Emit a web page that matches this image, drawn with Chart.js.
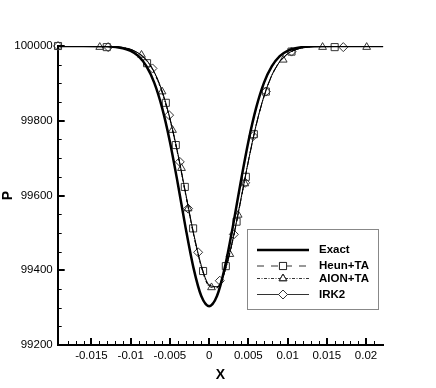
<html>
<head>
<meta charset="utf-8">
<script src="https://cdn.jsdelivr.net/npm/chart.js@4.4.0/dist/chart.umd.min.js"></script>
</head>
<body style="margin:0;background:#fff">
<canvas id="chart" width="436" height="388"></canvas>
<script>
// pressure profile P(x)
var xGrid = [-0.0193, -0.016, -0.013, -0.011, -0.010, -0.009, -0.008, -0.007, -0.006, -0.005, -0.004, -0.003, -0.002, -0.001, 0,
             0.001, 0.002, 0.003, 0.004, 0.005, 0.006, 0.007, 0.008, 0.009, 0.010, 0.011, 0.013, 0.016, 0.0222];
var exactP = [100000, 100000, 99999, 99994, 99987, 99973, 99946, 99902, 99835, 99744, 99633, 99514, 99407, 99331, 99304,
              99331, 99407, 99514, 99633, 99744, 99835, 99902, 99946, 99973, 99987, 99994, 99999, 100000, 100000];
var heunP = [100000, 100000, 99999, 99996, 99991, 99981, 99962, 99930, 99878, 99805, 99712, 99605, 99499, 99411, 99359,
             99354, 99397, 99479, 99583, 99691, 99788, 99865, 99921, 99957, 99978, 99990, 99998, 100000, 100000];
var aionP = [100000, 100000, 99999, 99996, 99990, 99980, 99961, 99928, 99876, 99803, 99710, 99603, 99497, 99409, 99357,
             99353, 99396, 99478, 99583, 99692, 99789, 99866, 99922, 99958, 99979, 99990, 99998, 100000, 100000];
var irkP = [100000, 100000, 99999, 99996, 99991, 99981, 99963, 99931, 99880, 99807, 99714, 99607, 99501, 99413, 99361,
            99356, 99399, 99481, 99585, 99692, 99789, 99866, 99922, 99958, 99979, 99990, 99998, 100000, 100000];

// symbols as they sit on the curves
var heunMarkX = [-0.01926, -0.01305, -0.00791, -0.00552, -0.00425, -0.0031, -0.00204, -0.00077, 0.00213, 0.0035, 0.00468, 0.0057, 0.00723, 0.0105, 0.016];
var heunMarkP = [100000, 99997, 99954, 99848, 99735, 99623, 99512, 99398, 99411, 99530, 99650, 99764, 99878, 99985, 99997];
var aionMarkX = [-0.01394, -0.00862, -0.006, -0.00467, -0.00352, -0.00268, 0.0003, 0.00264, 0.0037, 0.00455, 0.00944, 0.01446, 0.02008];
var aionMarkP = [99997, 99976, 99878, 99775, 99673, 99565, 99354, 99443, 99548, 99632, 99963, 99997, 99997];
var irkMarkX = [-0.01926, -0.01287, -0.00722, -0.0051, -0.00374, -0.00268, -0.0014, 0.00136, 0.00315, 0.0046, 0.00561, 0.00723, 0.0105, 0.0171];
var irkMarkP = [100000, 99997, 99940, 99815, 99690, 99565, 99448, 99372, 99496, 99634, 99759, 99878, 99985, 99997];

var names = ['Exact', 'Heun+TA', 'AION+TA', 'IRK2'];

function pts(xs, ys) {
  return xs.map(function(v, i) { return {x: v, y: ys[i]}; });
}
function near(v, step) {
  var k = v / step;
  return Math.abs(k - Math.round(k)) < 1e-6;
}

var curve = function(label, data, width, dash) {
  return {label: label, data: data, borderColor: '#000', borderWidth: width, borderDash: dash,
          pointRadius: 0, fill: false, cubicInterpolationMode: 'monotone'};
};
var marks = function(label, data, style, r) {
  return {label: label, data: data, showLine: false, pointStyle: style, pointRadius: r,
          pointBackgroundColor: 'rgba(0,0,0,0)', pointBorderColor: '#333', pointBorderWidth: 1, clip: false};
};

var lineStyles = [
  {width: 2.5, dash: [], mark: null},
  {width: 1, dash: [7, 7], mark: 'rect', r: 5},
  {width: 1, dash: [3, 1.5, 1, 1.5], mark: 'triangle', r: 4.5},
  {width: 1, dash: [], mark: 'rectRot', r: 4.5}
];

var tickMarks = {
  id: 'tickMarks',
  afterDatasetsDraw: function(chart) {
    var ctx = chart.ctx, area = chart.chartArea, sx = chart.scales.x, sy = chart.scales.y;
    ctx.save();
    ctx.strokeStyle = '#000';
    sx.ticks.forEach(function(t) {
      if (!near(t.value, 0.001)) return;
      var major = near(t.value, 0.005);
      var px = Math.round(sx.getPixelForValue(t.value)) + (major ? 0 : 0.5);
      ctx.lineWidth = major ? 2 : 1;
      ctx.beginPath();
      ctx.moveTo(px, area.bottom);
      ctx.lineTo(px, area.bottom - (major ? 7 : 4));
      ctx.stroke();
    });
    sy.ticks.forEach(function(t) {
      if (t.value % 50 !== 0) return;
      var major = t.value % 200 === 0;
      var py = Math.round(sy.getPixelForValue(t.value)) + (major ? 0 : 0.5);
      ctx.lineWidth = major ? 2 : 1;
      ctx.beginPath();
      ctx.moveTo(area.left, py);
      ctx.lineTo(area.left + (major ? 7 : 4), py);
      ctx.stroke();
    });
    ctx.restore();
  }
};

var boxLegend = {
  id: 'boxLegend',
  afterDraw: function(chart, args, opts) {
    var ctx = chart.ctx;
    ctx.save();
    ctx.strokeStyle = '#888';
    ctx.lineWidth = 1;
    ctx.strokeRect(opts.left + 0.5, opts.top + 0.5, opts.width, opts.height);
    ctx.font = 'bold 11.5px "Liberation Sans", Arial, sans-serif';
    ctx.textBaseline = 'middle';
    ctx.fillStyle = '#000';
    names.forEach(function(n, i) {
      var st = lineStyles[i], y = opts.rows[i];
      ctx.strokeStyle = i === 0 ? '#000' : '#333';
      ctx.lineWidth = st.width;
      ctx.setLineDash(st.dash);
      ctx.beginPath();
      ctx.moveTo(opts.lineFrom, y);
      ctx.lineTo(opts.lineTo, y);
      ctx.stroke();
      ctx.setLineDash([]);
      if (st.mark) {
        ctx.fillStyle = '#fff';
        Chart.helpers.drawPoint(ctx, {pointStyle: st.mark, radius: st.r, rotation: 0, borderWidth: 1},
          (opts.lineFrom + opts.lineTo) / 2, y);
        ctx.lineWidth = 1;
        ctx.strokeStyle = '#333';
        ctx.stroke();
      }
      ctx.fillStyle = '#000';
      ctx.fillText(n, opts.textX, y);
    });
    ctx.restore();
  }
};

var tickFont = {family: '"Liberation Sans", Arial, sans-serif', size: 11.5};
var titleFont = {family: '"Liberation Sans", Arial, sans-serif', size: 14, weight: 'bold'};

new Chart(document.getElementById('chart'), {
  type: 'line',
  data: {
    datasets: [
      curve(names[0], pts(xGrid, exactP), 2.5, []),
      curve(names[1], pts(xGrid, heunP), 1, [7, 7]),
      curve(names[2], pts(xGrid, aionP), 1, [3, 1.5, 1, 1.5]),
      curve(names[3], pts(xGrid, irkP), 1, []),
      marks(names[1], pts(heunMarkX, heunMarkP), 'rect', 5),
      marks(names[2], pts(aionMarkX, aionMarkP), 'triangle', 4.5),
      marks(names[3], pts(irkMarkX, irkMarkP), 'rectRot', 4.5)
    ]
  },
  options: {
    responsive: false,
    animation: false,
    layout: {padding: {top: 46, right: 52.7, left: 0, bottom: 0}},
    plugins: {
      legend: {display: false},
      tooltip: {enabled: false},
      boxLegend: {left: 247, top: 229, width: 131, height: 80, rows: [250, 266, 278.5, 294.5],
                  lineFrom: 257, lineTo: 309, textX: 319}
    },
    scales: {
      x: {
        type: 'linear', min: -0.0193, max: 0.0222,
        grid: {display: false, drawTicks: false},
        border: {display: true, color: '#000', width: 2},
        ticks: {stepSize: 0.001, autoSkip: false, maxRotation: 0, maxTicksLimit: 1000, padding: 4,
                color: '#000', font: tickFont,
                callback: function(v) { return near(v, 0.005) ? String(Math.round(v * 1000) / 1000) : ''; }},
        title: {display: true, text: 'X', color: '#000', font: titleFont, padding: {top: 0, bottom: 4}},
        afterFit: function(s) { s.height = 43; }
      },
      y: {
        min: 99200, max: 100000,
        grid: {display: false, drawTicks: false},
        border: {display: true, color: '#000', width: 2},
        ticks: {stepSize: 50, autoSkip: false, maxTicksLimit: 1000, padding: 5, color: '#000', font: tickFont,
                callback: function(v) { return v % 200 === 0 ? String(v) : ''; }},
        title: {display: true, text: 'P', color: '#000', font: titleFont, padding: {top: 0, bottom: 0}},
        afterFit: function(s) { s.width = 57.7; }
      }
    }
  },
  plugins: [tickMarks, boxLegend]
});
</script>
</body>
</html>
